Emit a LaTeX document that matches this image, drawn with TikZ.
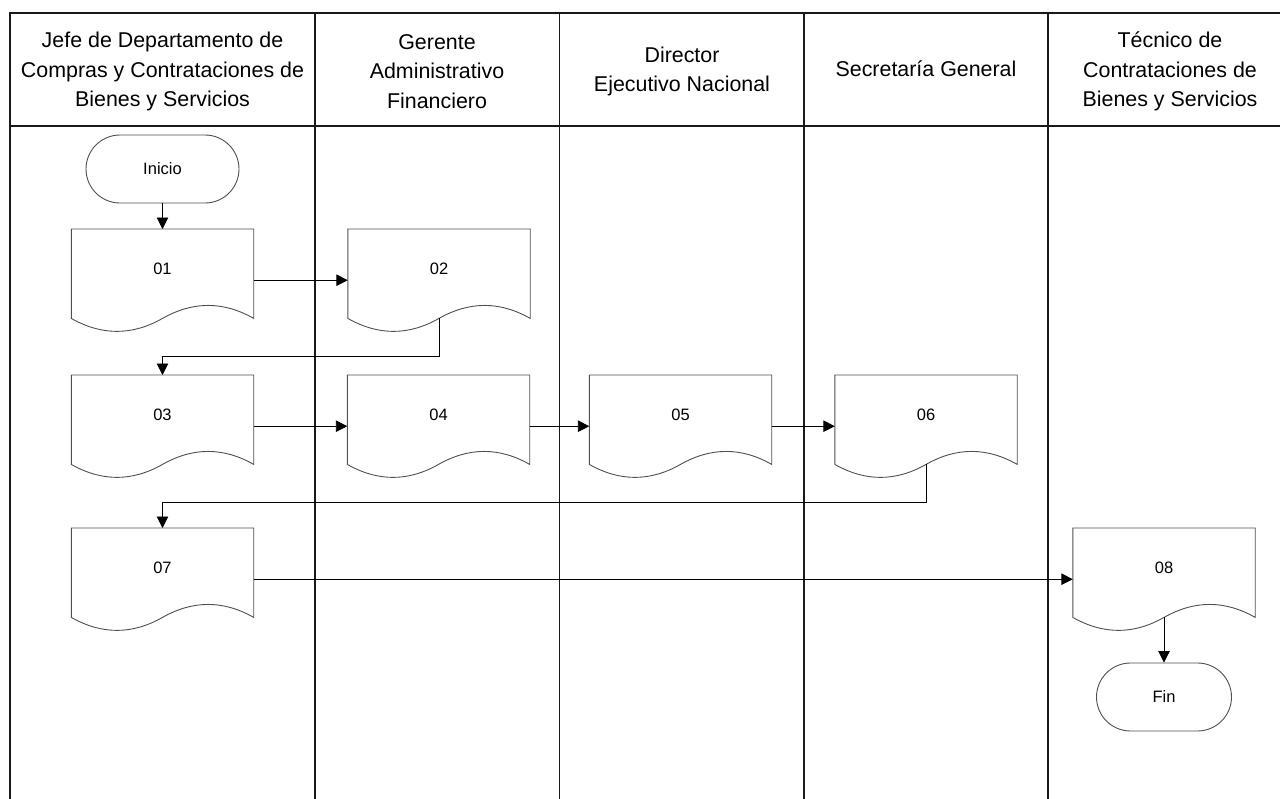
\documentclass[tikz,border=0pt]{standalone}
\usepackage{fontspec}
\setmainfont{Liberation Sans}
\usetikzlibrary{arrows.meta,calc,shapes.misc}
\newcommand\hdrfont{\fontsize{21.4pt}{29.5pt}\selectfont}
\newcommand\bodyfont{\fontsize{16.5pt}{20pt}\selectfont}
\definecolor{shapegray}{HTML}{505050}
\begin{document}
\begin{tikzpicture}[x=1pt,y=-1pt,
  frame/.style={line width=1.2pt, black!90},
  docbox/.style={rectangle, minimum width=182pt, minimum height=102pt, inner sep=0pt,
    text height=12pt, text depth=24pt, font=\bodyfont, anchor=north},
  docline/.style={draw=shapegray, line width=0.9pt},
  term/.style={rounded rectangle, draw=shapegray, line width=0.9pt, minimum height=68pt,
    inner sep=0pt, font=\bodyfont},
  hdr/.style={align=center, font=\hdrfont, inner sep=0pt},
  arr/.style={-{Triangle[length=11.5pt,width=11.5pt]}, line width=0.9pt, black}]
\clip (0,0) rectangle (1280,798);
\fill[white] (0,0) rectangle (1280,798);

% swimlane frame
\draw[frame] (10,800) -- (10,13) -- (1300,13);
\draw[frame] (10,126) -- (1300,126);
\foreach \cx in {315,559.5,804,1048}{\draw[frame] (\cx,13) -- (\cx,800);}

% headers
\node[hdr] (h1) at (162.5,71.5) {Jefe de Departamento de\\Compras y Contrataciones de\\Bienes y Servicios};
\node[hdr] (h2) at (437,71.5) {Gerente\\Administrativo\\Financiero};
\node[hdr] (h3) at (682,71.5) {Director\\Ejecutivo Nacional};
\node[hdr] (h4) at (926,69) {Secretaría General};
\node[hdr] (h5) at (1170,71.5) {Técnico de\\Contrataciones de\\Bienes y Servicios};

% terminators
\node[term, minimum width=153pt] (inicio) at (162.5,169) {Inicio};
\node[term, minimum width=135pt] (fin) at (1164,697) {Fin};

% documents
\node[docbox] (d1) at (162.5,229) {01};
\node[docbox] (d2) at (439,229) {02};
\node[docbox] (d3) at (162.5,375) {03};
\node[docbox] (d4) at (438.5,375) {04};
\node[docbox] (d5) at (680.5,375) {05};
\node[docbox] (d6) at (926,375) {06};
\node[docbox] (d7) at (162.5,528) {07};
\node[docbox] (d8) at (1164,528) {08};

\foreach \n in {d1,d2,d3,d4,d5,d6,d7,d8}{
  \draw[docline] ($(\n.south west)+(0,-13)$) -- (\n.north west) -- (\n.north east)
    -- ($(\n.south east)+(0,-13)$)
    .. controls ($(\n.south east)+(-30.33,-30.3)$) and ($(\n.south east)+(-60.67,-30.3)$) .. ($(\n.south)+(0,-13)$)
    .. controls ($(\n.south)+(-30.33,4.3)$) and ($(\n.south)+(-60.67,4.3)$) .. ($(\n.south west)+(0,-13)$)
    -- cycle;
}

% connectors
\coordinate (k1) at ($(d2.south)+(0,25)$);
\coordinate (k2) at ($(d6.south)+(0,25)$);
\draw[arr] (inicio.south) -- (d1.north);
\draw[arr] (d1.east) -- (d2.west);
\draw[arr] ($(d2.south)+(0,-13)$) -- (k1) -| (d3.north);
\draw[arr] (d3.east) -- (d4.west);
\draw[arr] (d4.east) -- (d5.west);
\draw[arr] (d5.east) -- (d6.west);
\draw[arr] ($(d6.south)+(0,-13)$) -- (k2) -| (d7.north);
\draw[arr] (d7.east) -- (d8.west);
\draw[arr] ($(d8.south)+(0,-13)$) -- (fin.north);
\end{tikzpicture}
\end{document}
